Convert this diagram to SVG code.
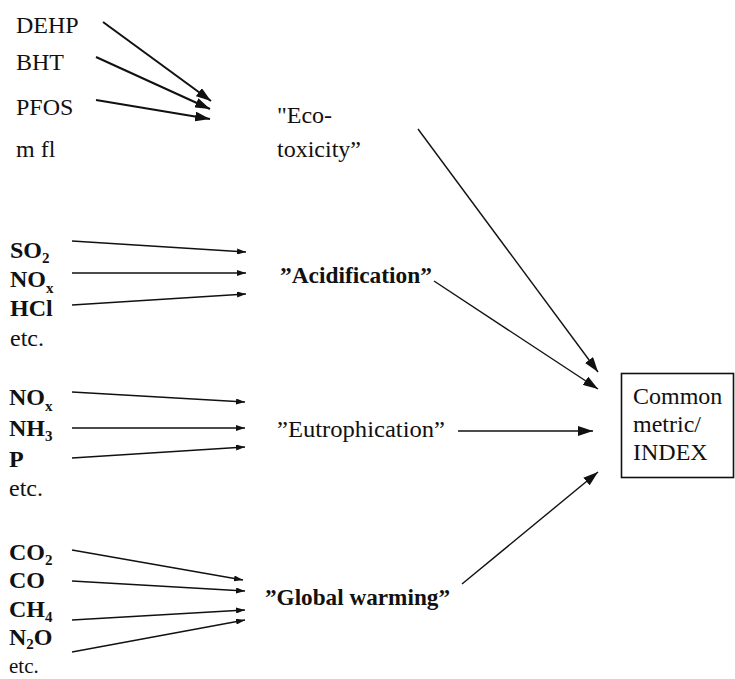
<svg xmlns="http://www.w3.org/2000/svg" width="735" height="679" viewBox="0 0 735 679" font-family="'Liberation Serif', Tinos, 'Times New Roman', 'DejaVu Serif', serif">
<style>
text{font-family:'Liberation Serif',Tinos,'Times New Roman','DejaVu Serif',serif;font-size:24px;fill:#111}
.b{font-weight:bold}
.sub{font-size:15px}
.c{fill:none;stroke:#111;stroke-width:1.4}
.t{stroke-width:2}
</style>
<defs>
<marker id="ab" markerUnits="userSpaceOnUse" markerWidth="16" markerHeight="10" refX="15" refY="5" orient="auto"><path d="M0,0 L15,5 L0,10 z" fill="#111"/></marker>
<marker id="am" markerUnits="userSpaceOnUse" markerWidth="16" markerHeight="10" refX="15" refY="5" orient="auto"><path d="M0,0 L15,5 L0,10 z" fill="#111"/></marker>
<marker id="as" markerUnits="userSpaceOnUse" markerWidth="9" markerHeight="6" refX="9" refY="3" orient="auto"><path d="M0,0 L9,3 L0,6 z" fill="#111"/></marker>
</defs>
<rect width="735" height="679" fill="#fff"/>
<g id="ecotox-inputs">
<text x="16" y="33">DEHP</text>
<text x="16" y="70">BHT</text>
<text x="16" y="115">PFOS</text>
<text x="16" y="157">m fl</text>
</g>
<g id="ecotoxicity">
<text x="277" y="123">"Eco-</text>
<text x="277" y="157">toxicity”</text>
</g>
<g id="acid-inputs">
<text class="b" x="10" y="258">SO<tspan class="sub" dy="5">2</tspan></text>
<text class="b" x="10" y="287">NO<tspan class="sub" dy="6">x</tspan></text>
<text class="b" x="10" y="316">HCl</text>
<text x="10" y="346">etc.</text>
</g>
<g id="acidification">
<text class="b" x="280" y="283" textLength="152" lengthAdjust="spacingAndGlyphs">”Acidification”</text>
</g>
<g id="eutro-inputs">
<text class="b" x="9" y="405">NO<tspan class="sub" dy="6">x</tspan></text>
<text class="b" x="9" y="436">NH<tspan class="sub" dy="5">3</tspan></text>
<text class="b" x="9" y="467">P</text>
<text x="9" y="496">etc.</text>
</g>
<g id="eutrophication">
<text x="277" y="437" textLength="168" lengthAdjust="spacingAndGlyphs">”Eutrophication”</text>
</g>
<g id="gw-inputs">
<text class="b" x="9" y="560">CO<tspan class="sub" dy="5">2</tspan></text>
<text class="b" x="9" y="588">CO</text>
<text class="b" x="9" y="617">CH<tspan class="sub" dy="5">4</tspan></text>
<text class="b" x="9" y="645">N<tspan class="sub" dy="4">2</tspan><tspan dy="-4">O</tspan></text>
<text x="9" y="673" style="font-size:21px">etc.</text>
</g>
<g id="global-warming">
<text class="b" x="265" y="605" textLength="185" lengthAdjust="spacingAndGlyphs">”Global warming”</text>
</g>
<g id="common-index">
<rect x="621.5" y="373.5" width="112" height="104" fill="none" stroke="#111" stroke-width="1.6"/>
<text x="633" y="404">Common</text>
<text x="633" y="432">metric/</text>
<text x="633" y="460">INDEX</text>
</g>
<g id="connectors">
<line class="c t" x1="103" y1="22" x2="211" y2="101" marker-end="url(#ab)"/>
<line class="c t" x1="96" y1="57" x2="210" y2="109" marker-end="url(#ab)"/>
<line class="c t" x1="96" y1="100" x2="210" y2="119" marker-end="url(#ab)"/>
<line class="c" x1="72" y1="241" x2="246" y2="252" marker-end="url(#as)"/>
<line class="c" x1="72" y1="273" x2="246" y2="273" marker-end="url(#as)"/>
<line class="c" x1="72" y1="305" x2="246" y2="294" marker-end="url(#as)"/>
<line class="c" x1="72" y1="392" x2="245" y2="402" marker-end="url(#as)"/>
<line class="c" x1="72" y1="428" x2="245" y2="428" marker-end="url(#as)"/>
<line class="c" x1="72" y1="458" x2="245" y2="447" marker-end="url(#as)"/>
<line class="c" x1="72" y1="550" x2="243" y2="580" marker-end="url(#as)"/>
<line class="c" x1="72" y1="581" x2="245" y2="591" marker-end="url(#as)"/>
<line class="c" x1="72" y1="620" x2="245" y2="610" marker-end="url(#as)"/>
<line class="c" x1="72" y1="652" x2="245" y2="620" marker-end="url(#as)"/>
<line class="c" x1="418" y1="129" x2="598" y2="372" marker-end="url(#am)"/>
<line class="c" x1="434" y1="281" x2="598" y2="389" marker-end="url(#am)"/>
<line class="c" x1="458" y1="431" x2="593" y2="431" marker-end="url(#am)"/>
<line class="c" x1="462" y1="584" x2="598" y2="472" marker-end="url(#am)"/>
</g>
</svg>
